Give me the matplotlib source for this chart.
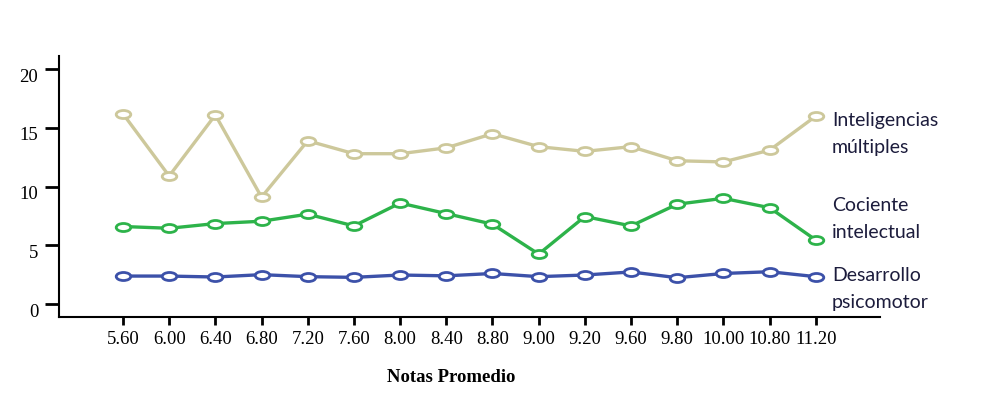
import matplotlib
matplotlib.use("Agg")
import numpy as np
import matplotlib.pyplot as plt
from matplotlib.path import Path
from matplotlib.transforms import Affine2D, ScaledTranslation

# datos
notas = ["5.60", "6.00", "6.40", "6.80", "7.20", "7.60", "8.00", "8.40",
         "8.80", "9.00", "9.20", "9.60", "9.80", "10.00", "10.80", "11.20"]

inteligencias = [16.2, 10.9, 16.1, 9.1, 13.9, 12.8, 12.8, 13.3,
                 14.5, 13.4, 13.0, 13.4, 12.2, 12.1, 13.1, 16.0]
cociente = [6.6, 6.45, 6.85, 7.05, 7.65, 6.65, 8.6, 7.7,
            6.8, 4.25, 7.45, 6.65, 8.5, 9.0, 8.2, 5.45]
desarrollo = [2.38, 2.38, 2.3, 2.5, 2.33, 2.27, 2.47, 2.4,
              2.6, 2.33, 2.47, 2.73, 2.24, 2.6, 2.75, 2.33]

series = [
    (inteligencias, "#cdc89b", "Inteligencias\nmúltiples", 134),
    (cociente, "#2db34a", "Cociente\nintelectual", 219),
    (desarrollo, "#3c51a9", "Desarrollo\npsicomotor", 289),
]

y_ticks = [0, 5, 10, 15, 20]

W, H = 981, 397
fig = plt.figure(figsize=(W / 100, H / 100), dpi=100)
ax = fig.add_axes([59 / W, 80.3 / H, (880 - 59) / W, (316.7 - 56) / H])

# marcador eliptico (circulo aplastado)
elipse = Path.unit_circle().transformed(Affine2D().scale(1.0, 0.55))

x = np.arange(len(notas))
for valores, color, etiqueta, ypix in series:
    ax.plot(x, valores, color=color, lw=2.4, marker=elipse, markersize=10.5,
            markerfacecolor="white", markeredgecolor=color, markeredgewidth=2.0,
            solid_joinstyle="round", zorder=3)
    fig.text(832 / W, 1 - ypix / H, etiqueta, family=["Lato", "DejaVu Sans"],
             fontsize=14, color="#1c1c3c", va="center", ha="left",
             linespacing=1.67)

ax.set_xlim(-1.385, 16.39)
ax.set_ylim(-1.08, 21.12)

ax.set_xticks(x)
ax.set_xticklabels(notas, family="Liberation Serif", fontsize=13.5)
ax.set_yticks(y_ticks)
ax.set_yticklabels([str(v) for v in y_ticks], family="Liberation Serif", fontsize=13.5)

for s in ["top", "right"]:
    ax.spines[s].set_visible(False)
for s in ["left", "bottom"]:
    ax.spines[s].set_linewidth(1.5)

ax.tick_params(axis="x", length=6, width=2, pad=4)
ax.tick_params(axis="y", length=10, width=2, pad=5)

# las etiquetas del eje y estan un poco mas abajo que las marcas
desplaza = ScaledTranslation(0, -6 / 100, fig.dpi_scale_trans)
for lab in ax.get_yticklabels():
    lab.set_transform(lab.get_transform() + desplaza)

fig.text(451 / W, 1 - 377 / H, "Notas Promedio", family="Liberation Serif",
         fontsize=13.5, fontweight="bold", ha="center", va="center")

fig.savefig("out.png", dpi=100)
